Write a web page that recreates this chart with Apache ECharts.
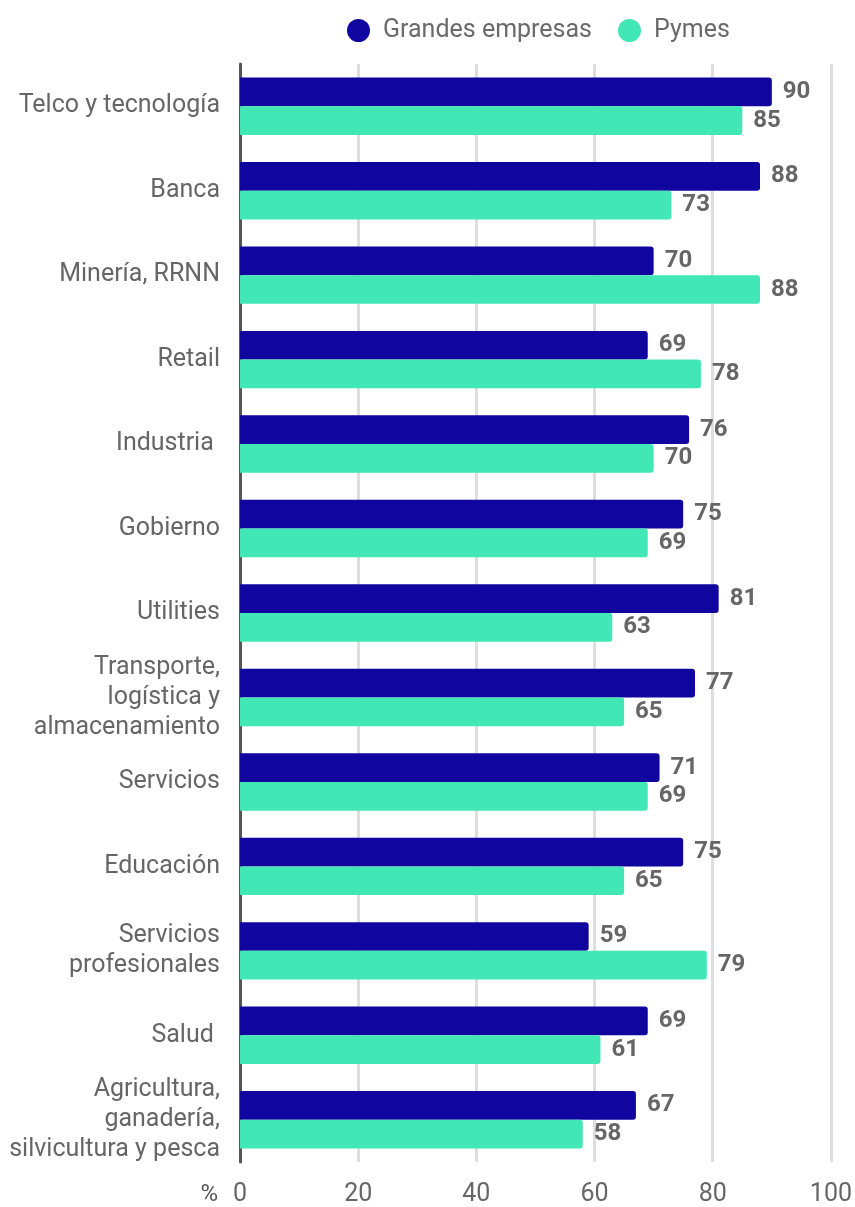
<!DOCTYPE html>
<html><head><meta charset="utf-8">
<script src="https://cdn.jsdelivr.net/npm/echarts@6/dist/echarts.min.js"></script>
<style>html,body{margin:0;padding:0;background:#fff}#c{width:855px;height:1207px}</style>
</head><body><div id="c"></div>
<script>
const categories = ["Telco y tecnología","Banca","Minería, RRNN","Retail","Industria ","Gobierno","Utilities","Transporte,\nlogística y\nalmacenamiento","Servicios","Educación","Servicios\nprofesionales","Salud ","Agricultura,\nganadería,\nsilvicultura y pesca"];
const grandes = [90,88,70,69,76,75,81,77,71,75,59,69,67];
const pymes = [85,73,88,78,70,69,63,65,69,65,79,61,58];
const xTicks = [0,20,40,60,80,100];
const chart = echarts.init(document.getElementById('c'));
const lbl = {show:true,position:'right',distance:11,color:'#666',fontFamily:'Roboto',fontWeight:'bold',fontSize:24};
chart.setOption({
  animation:false,
  legend:{top:13,left:342,itemWidth:23,itemHeight:23,itemGap:26,icon:'circle',
    textStyle:{color:'#6a6a6a',fontFamily:'Roboto',fontSize:25,padding:[0,0,0,8]},
    data:['Grandes empresas','Pymes']},
  grid:{left:240,right:20,top:64,bottom:43,containLabel:false},
  xAxis:{type:'value',min:xTicks[0],max:xTicks[xTicks.length-1],interval:20,
    name:'%',nameLocation:'start',nameGap:22,
    nameTextStyle:{color:'#555',fontFamily:'Roboto',fontSize:24,verticalAlign:'top',padding:[21,0,0,0]},
    axisLine:{show:false},axisTick:{show:false},
    axisLabel:{color:'#666',fontFamily:'Roboto',fontSize:25,margin:20},
    splitLine:{lineStyle:{color:'#dedede',width:3}}},
  yAxis:{type:'category',data:categories,inverse:true,
    axisLine:{lineStyle:{color:'#555',width:3}},axisTick:{show:false},
    axisLabel:{color:'#666',fontFamily:'Roboto',fontSize:25,margin:20,lineHeight:30,align:'right',padding:[4,0,0,0]}},
  series:[
    {name:'Grandes empresas',type:'bar',data:grandes,barGap:'0%',barCategoryGap:'32%',
     itemStyle:{color:'#10069F',borderRadius:[0,3,3,0]},label:lbl},
    {name:'Pymes',type:'bar',data:pymes,barGap:'0%',barCategoryGap:'32%',
     itemStyle:{color:'#41E8B6',borderRadius:[0,3,3,0]},label:lbl}
  ]
});
</script></body></html>
